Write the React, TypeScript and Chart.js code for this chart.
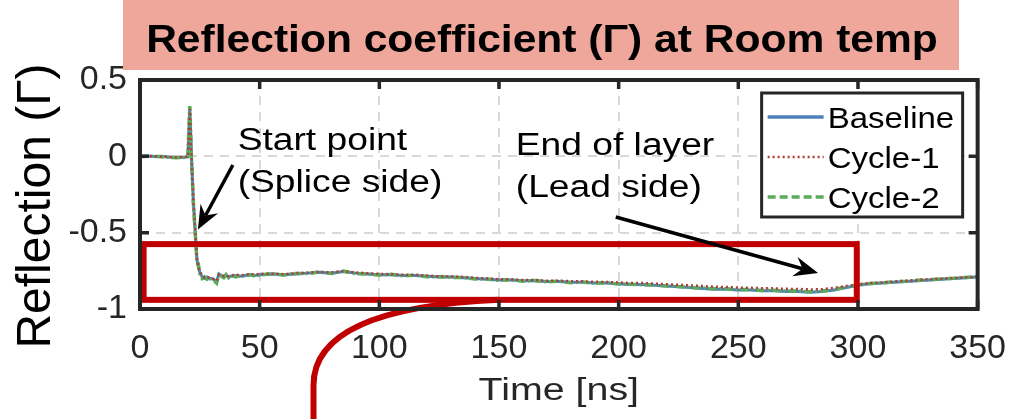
import React, { useEffect, useRef } from "react";
import { Chart, registerables } from "chart.js";

Chart.register(...registerables);

// ---------- DATA ----------
const TIME = [
  0, 3, 6, 9, 12, 15, 18, 20, 20.8, 21.5, 22.3, 23.3, 23.8, 24.3, 25,
  26, 27, 28, 29, 30, 31, 32, 33, 34, 35, 36, 37, 38, 40, 42, 44, 46, 48,
  50, 55, 60, 65, 70, 75, 80, 85, 90, 95,
  100, 105, 110, 115, 120, 125, 130, 135, 140, 145,
  150, 155, 160, 165, 170, 175, 180, 185, 190, 195,
  200, 205, 210, 215, 220, 225, 230, 235, 240, 245,
  250, 255, 260, 265, 270, 275, 280, 285, 290, 295,
  300, 305, 310, 315, 320, 325, 330, 335, 340, 345,
  350,
];

const BASELINE = [
  0, 0.002, -0.001, 0.001, -0.004, -0.008, -0.006, -0.004, 0.32, 0.0, -0.3, -0.55, -0.68, -0.72, -0.76,
  -0.79, -0.8, -0.79, -0.8, -0.8, -0.81, -0.82, -0.77, -0.78, -0.79, -0.78, -0.79, -0.785, -0.78, -0.785, -0.78, -0.775, -0.78,
  -0.775, -0.77, -0.775, -0.77, -0.765, -0.76, -0.765, -0.755, -0.765, -0.77,
  -0.775, -0.775, -0.78, -0.78, -0.785, -0.79, -0.79, -0.795, -0.8, -0.805,
  -0.81, -0.81, -0.815, -0.815, -0.82, -0.82, -0.825, -0.825, -0.83, -0.83,
  -0.835, -0.84, -0.84, -0.845, -0.85, -0.855, -0.86, -0.865, -0.87, -0.87,
  -0.875, -0.875, -0.88, -0.88, -0.885, -0.885, -0.89, -0.885, -0.875, -0.86,
  -0.845, -0.835, -0.83, -0.825, -0.82, -0.815, -0.81, -0.805, -0.8, -0.795,
  -0.79,
];

const CYCLE1 = [
  0.002, 0.0, 0.001, -0.002, -0.005, -0.006, -0.005, -0.003, 0.31, 0.01, -0.29, -0.54, -0.67, -0.72, -0.75,
  -0.785, -0.795, -0.79, -0.795, -0.8, -0.805, -0.815, -0.775, -0.775, -0.785, -0.78, -0.785, -0.78, -0.775, -0.78, -0.775, -0.77, -0.775,
  -0.77, -0.768, -0.772, -0.765, -0.762, -0.758, -0.76, -0.752, -0.76, -0.766,
  -0.77, -0.772, -0.776, -0.777, -0.781, -0.786, -0.787, -0.79, -0.796, -0.8,
  -0.805, -0.806, -0.81, -0.81, -0.815, -0.815, -0.818, -0.819, -0.822, -0.823,
  -0.826, -0.83, -0.83, -0.834, -0.838, -0.842, -0.846, -0.85, -0.854, -0.856,
  -0.86, -0.861, -0.864, -0.865, -0.868, -0.869, -0.872, -0.87, -0.862, -0.85,
  -0.838, -0.83, -0.826, -0.82, -0.815, -0.81, -0.806, -0.801, -0.797, -0.792,
  -0.788,
];

const CYCLE2 = [
  -0.002, 0.001, 0.0, -0.003, -0.006, -0.009, -0.007, -0.005, 0.33, -0.01, -0.31, -0.56, -0.69, -0.7, -0.77,
  -0.8, -0.79, -0.805, -0.795, -0.81, -0.815, -0.83, -0.765, -0.785, -0.795, -0.775, -0.795, -0.78, -0.79, -0.78, -0.785, -0.775, -0.785,
  -0.778, -0.768, -0.778, -0.768, -0.768, -0.757, -0.768, -0.752, -0.768, -0.772,
  -0.778, -0.773, -0.783, -0.778, -0.788, -0.788, -0.793, -0.793, -0.803, -0.803,
  -0.813, -0.808, -0.818, -0.813, -0.823, -0.818, -0.828, -0.823, -0.832, -0.828,
  -0.837, -0.838, -0.842, -0.843, -0.85, -0.853, -0.86, -0.862, -0.868, -0.867,
  -0.873, -0.872, -0.878, -0.877, -0.883, -0.882, -0.887, -0.882, -0.872, -0.857,
  -0.843, -0.833, -0.829, -0.822, -0.818, -0.812, -0.808, -0.802, -0.799, -0.793,
  -0.789,
];

const SERIES_LABELS = ["Baseline", "Cycle-1", "Cycle-2"];
const X_TICKS = [0, 50, 100, 150, 200, 250, 300, 350];
const Y_TICKS = [-1, -0.5, 0, 0.5];

const TITLE = "Reflection coefficient (\u0393) at Room temp";
const X_TITLE = "Time [ns]";
const Y_TITLE = "Reflection (\u0393)";

// annotation texts
const START_LABEL = ["Start point", "(Splice side)"];
const END_LABEL = ["End of layer", "(Lead side)"];
// highlighted region [t0, t1, gHigh, gLow]
const HIGHLIGHT = [1.5, 299.5, -0.575, -0.94];

// ---------- STYLE ----------
const AXIS_COLOR = "#262626";
const FONT = "'Liberation Sans', Arial, Helvetica, sans-serif";

function drawArrow(ctx: CanvasRenderingContext2D, x1: number, y1: number, x2: number, y2: number) {
  const ang = Math.atan2(y2 - y1, x2 - x1);
  const headLen = 24;
  const headW = 10;
  const notch = 16;
  const bx = x2 - Math.cos(ang) * notch;
  const by = y2 - Math.sin(ang) * notch;
  ctx.save();
  ctx.strokeStyle = "#000";
  ctx.fillStyle = "#000";
  ctx.lineWidth = 3.5;
  ctx.beginPath();
  ctx.moveTo(x1, y1);
  ctx.lineTo(bx, by);
  ctx.stroke();
  const hx = x2 - Math.cos(ang) * headLen;
  const hy = y2 - Math.sin(ang) * headLen;
  const px = -Math.sin(ang) * headW;
  const py = Math.cos(ang) * headW;
  ctx.beginPath();
  ctx.moveTo(x2, y2);
  ctx.lineTo(hx + px, hy + py);
  ctx.lineTo(bx, by);
  ctx.lineTo(hx - px, hy - py);
  ctx.closePath();
  ctx.fill();
  ctx.restore();
}

function stretchedText(
  ctx: CanvasRenderingContext2D,
  text: string,
  x: number,
  y: number,
  font: string,
  sx: number,
  align: CanvasTextAlign = "left",
  rot = 0
) {
  ctx.save();
  ctx.font = font;
  ctx.textAlign = align;
  ctx.textBaseline = "alphabetic";
  ctx.translate(x, y);
  if (rot) ctx.rotate(rot);
  ctx.scale(sx, 1);
  ctx.fillText(text, 0, 0);
  ctx.restore();
}

const decorPlugin = {
  id: "decor",
  afterDraw(chart: any) {
    const { ctx, chartArea, scales } = chart;
    const xs = scales.x;
    const ys = scales.y;
    const X = (v: number) => xs.getPixelForValue(v);
    const Y = (v: number) => ys.getPixelForValue(v);
    const { left, right, top, bottom } = chartArea;

    // title box
    ctx.save();
    ctx.fillStyle = "#EFA69B";
    ctx.fillRect(123, 0, 836, 70);
    ctx.fillStyle = "#000";
    stretchedText(ctx, TITLE, 542, 52, `bold 38px ${FONT}`, 1.12, "center");
    ctx.restore();

    // axis titles
    ctx.save();
    ctx.fillStyle = AXIS_COLOR;
    stretchedText(ctx, X_TITLE, (left + right) / 2, 400, `31px ${FONT}`, 1.27, "center");
    ctx.fillStyle = "#000";
    stretchedText(ctx, Y_TITLE, 50, 206, `48px ${FONT}`, 1.0, "center", -Math.PI / 2);
    ctx.restore();

    // highlight box
    ctx.save();
    ctx.strokeStyle = "#C00000";
    ctx.lineWidth = 6;
    const hx0 = X(HIGHLIGHT[0]);
    const hx1 = X(HIGHLIGHT[1]);
    const hy0 = Y(HIGHLIGHT[2]);
    const hy1 = Y(HIGHLIGHT[3]);
    ctx.strokeRect(hx0, hy0, hx1 - hx0, hy1 - hy0);
    // connector curve leaving the figure
    ctx.beginPath();
    ctx.moveTo(X(150), hy1);
    ctx.bezierCurveTo(X(100), Y(-0.975), X(72.5), Y(-1.15), X(72.5), Y(-1.5));
    ctx.lineTo(X(72.5), Y(-1.8));
    ctx.stroke();
    ctx.restore();

    // arrows
    drawArrow(ctx, X(38.8), Y(-0.057), X(24.2), Y(-0.48));
    drawArrow(ctx, X(198.8), Y(-0.397), X(283.3), Y(-0.764));

    // annotation texts
    ctx.save();
    ctx.fillStyle = "#000";
    const af = `31px ${FONT}`;
    stretchedText(ctx, START_LABEL[0], X(40.8), Y(0.042), af, 1.2);
    stretchedText(ctx, START_LABEL[1], X(40.8), Y(-0.233), af, 1.2);
    stretchedText(ctx, END_LABEL[0], X(157), Y(0.009), af, 1.2);
    stretchedText(ctx, END_LABEL[1], X(157), Y(-0.266), af, 1.2);
    ctx.restore();

    // legend
    const lx1 = right - 15;
    const lx0 = lx1 - 201;
    const ly0 = top + 13;
    const ly1 = ly0 + 124;
    ctx.save();
    ctx.fillStyle = "#fff";
    ctx.fillRect(lx0, ly0, lx1 - lx0, ly1 - ly0);
    ctx.strokeStyle = AXIS_COLOR;
    ctx.lineWidth = 3;
    ctx.strokeRect(lx0, ly0, lx1 - lx0, ly1 - ly0);
    chart.data.datasets.forEach((ds: any, i: number) => {
      const cy = ly0 + 24 + i * 40;
      ctx.save();
      ctx.strokeStyle = ds.borderColor;
      ctx.lineWidth = i === 1 ? 2.5 : 3.5;
      ctx.setLineDash(i === 0 ? [] : i === 1 ? [2, 3] : [8, 4]);
      ctx.beginPath();
      ctx.moveTo(lx0 + 6, cy);
      ctx.lineTo(lx0 + 62, cy);
      ctx.stroke();
      ctx.restore();
      ctx.fillStyle = "#000";
      stretchedText(ctx, ds.label, lx0 + 66, cy + 11, `30px ${FONT}`, 1.1);
    });
    ctx.restore();

    // axes box with inward ticks
    ctx.save();
    ctx.strokeStyle = AXIS_COLOR;
    ctx.lineWidth = 4;
    ctx.strokeRect(left, top, right - left, bottom - top);
    ctx.lineWidth = 3.5;
    ctx.beginPath();
    X_TICKS.forEach((t) => {
      const px = X(t);
      ctx.moveTo(px, bottom);
      ctx.lineTo(px, bottom - 9);
      ctx.moveTo(px, top);
      ctx.lineTo(px, top + 9);
    });
    Y_TICKS.forEach((v) => {
      const py = Y(v);
      ctx.moveTo(left, py);
      ctx.lineTo(left + 9, py);
      ctx.moveTo(right, py);
      ctx.lineTo(right - 9, py);
    });
    ctx.stroke();
    ctx.restore();
  },
};

export default function App() {
  const ref = useRef<HTMLCanvasElement | null>(null);

  useEffect(() => {
    if (!ref.current) return;
    const mk = (ys: number[]) => TIME.map((t, i) => ({ x: t, y: ys[i] }));
    const chart = new Chart(ref.current, {
      type: "line",
      data: {
        datasets: [
          {
            label: SERIES_LABELS[0],
            data: mk(BASELINE),
            borderColor: "#4f81b8",
            borderWidth: 3,
            pointRadius: 0,
            order: 3,
          },
          {
            label: SERIES_LABELS[1],
            data: mk(CYCLE1),
            borderColor: "#b03c38",
            borderWidth: 2.5,
            borderDash: [2, 3],
            pointRadius: 0,
            order: 1,
          },
          {
            label: SERIES_LABELS[2],
            data: mk(CYCLE2),
            borderColor: "#5aab5a",
            borderWidth: 3.5,
            borderDash: [8, 3, 2, 3],
            pointRadius: 0,
            order: 2,
          },
        ],
      },
      options: {
        responsive: false,
        animation: false,
        layout: { padding: { top: 80, right: 45, left: 0, bottom: 0 } },
        plugins: {
          legend: { display: false },
          tooltip: { enabled: false },
          title: { display: false },
        },
        scales: {
          x: {
            type: "linear",
            min: X_TICKS[0],
            max: X_TICKS[X_TICKS.length - 1],
            afterBuildTicks: (s: any) => {
              s.ticks = X_TICKS.map((v) => ({ value: v }));
            },
            afterFit: (s: any) => {
              s.height = 110;
            },
            ticks: {
              color: AXIS_COLOR,
              font: { family: FONT, size: 34 },
              padding: 19,
              maxRotation: 0,
              autoSkip: false,
              callback: (v: any) => String(v),
            },
            grid: { color: "#d9d9d9", lineWidth: 2, drawTicks: false },
            border: { display: false, dash: [9, 7] },
            title: { display: false, text: X_TITLE },
          },
          y: {
            type: "linear",
            min: Y_TICKS[0],
            max: Y_TICKS[Y_TICKS.length - 1],
            afterBuildTicks: (s: any) => {
              s.ticks = Y_TICKS.map((v) => ({ value: v }));
            },
            afterFit: (s: any) => {
              s.width = 140;
            },
            ticks: {
              color: AXIS_COLOR,
              font: { family: FONT, size: 34 },
              padding: 13,
              autoSkip: false,
              callback: (v: any) => String(v),
            },
            grid: { color: "#d9d9d9", lineWidth: 2, drawTicks: false },
            border: { display: false, dash: [9, 7] },
            title: { display: false, text: Y_TITLE },
          },
        },
      },
      plugins: [decorPlugin],
    });
    return () => chart.destroy();
  }, []);

  return (
    <div style={{ position: "absolute", left: 0, top: 0, width: 1025, height: 419, background: "#fff" }}>
      <canvas ref={ref} width={1025} height={419} style={{ display: "block", width: 1025, height: 419 }} />
    </div>
  );
}
